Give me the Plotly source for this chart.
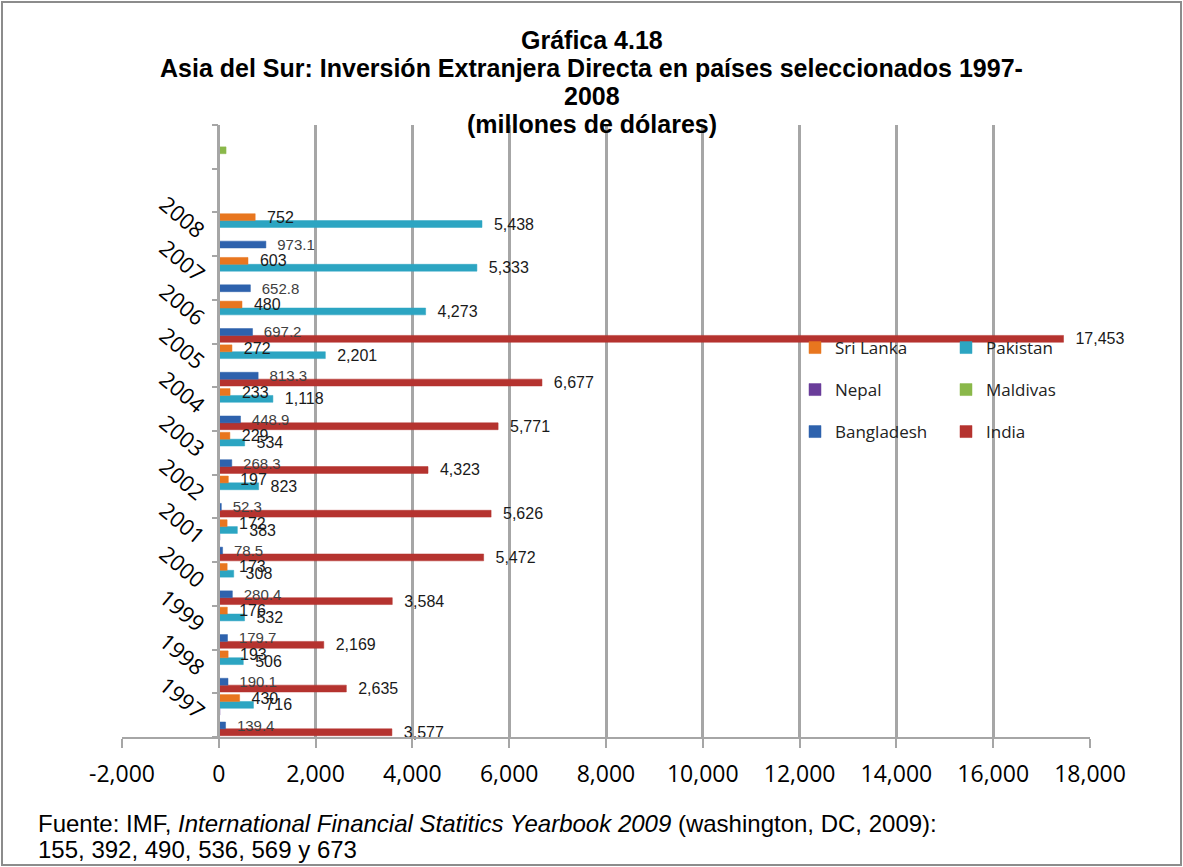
import plotly.graph_objects as go

# ---------------- data ----------------
YEARS = ["1997", "1998", "1999", "2000", "2001", "2002",
         "2003", "2004", "2005", "2006", "2007", "2008"]
EXTRA = [" ", "  "]          # two unlabeled rows above 2008
CATEGORIES = YEARS + EXTRA

SRI_LANKA = [430, 193, 176, 173, 172, 197, 229, 233, 272, 480, 603, 752, None, None]
PAKISTAN = [716, 506, 532, 308, 383, 823, 534, 1118, 2201, 4273, 5333, 5438, None, None]
NEPAL = [23, 12, 4, -1, 21, -6, 15, -1, 2, -7, 6, 1, None, None]
MALDIVAS = [11, 12, 12, 13, 12, 12, 14, 15, 10, 14, 15, 15, None, 150]
BANGLADESH = [139.4, 190.1, 179.7, 280.4, 78.5, 52.3, 268.3, 448.9, 813.3, 697.2, 652.8, 973.1, None, None]
INDIA = [3577, 2635, 2169, 3584, 5472, 5626, 4323, 5771, 6677, 17453, None, None, None, None]

X_TICKS = [-2000, 0, 2000, 4000, 6000, 8000, 10000, 12000, 14000, 16000, 18000]
X_TICKTEXT = [f"{v:,}" for v in X_TICKS]

TITLE_LINES = [
    "Gráfica 4.18",
    "Asia del Sur: Inversión Extranjera Directa en países seleccionados 1997-",
    "2008",
    "(millones de dólares)",
]
SOURCE_LINES = [
    "Fuente: IMF, <i>International Financial Statitics Yearbook 2009</i> (washington, DC, 2009):",
    "155, 392, 490, 536, 569 y 673",
]

# ---------------- layout constants ----------------
W, H = 1183, 867
ML, MR, MT, MB = 122, 93, 125, 130
PW, PH = W - ML - MR, H - MT - MB


def px_x(px):
    return (px - ML) / PW


def px_y(py):
    return (H - MB - py) / PH


LABEL_FONT = "Liberation Sans, Arial, sans-serif"
TICK_FONT = "Open Sans, sans-serif"
GRID = "#A6A6A6"

# order: first trace drawn at bottom of each group
series = [
    ("India", INDIA, "#B5332F", "legend3", ",.0f", 16, "#1a1a1a"),
    ("Bangladesh", BANGLADESH, "#2E62AD", "legend3", ".1f", 15, "#404040"),
    ("Maldivas", MALDIVAS, "#8AB84A", "legend2", None, 14, "#1a1a1a"),
    ("Nepal", NEPAL, "#6A3D9A", "legend2", None, 14, "#1a1a1a"),
    ("Pakistan", PAKISTAN, "#2CA5C2", "legend", ",.0f", 16, "#1a1a1a"),
    ("Sri Lanka", SRI_LANKA, "#E8761F", "legend", ",.0f", 16, "#1a1a1a"),
]

fig = go.Figure()
for name, vals, color, leg, fmt, fsize, fcolor in series:
    kw = {}
    if fmt:
        kw = dict(
            texttemplate="\u00a0\u00a0%{x:" + fmt + "}",
            textposition="outside",
            textangle=0,
            constraintext="none",
            cliponaxis=False,
            textfont=dict(family=LABEL_FONT, size=fsize, color=fcolor),
        )
    fig.add_trace(go.Bar(
        name=name, y=CATEGORIES, x=vals, orientation="h",
        marker=dict(color=color, line=dict(color=color, width=0.5)),
        legend=leg, hoverinfo="x+name", **kw))

yaxis_pos = (0 - X_TICKS[0]) / (X_TICKS[-1] - X_TICKS[0])

legend_common = dict(orientation="h", xanchor="left", yanchor="top",
                     entrywidth=106, entrywidthmode="pixels", traceorder="reversed",
                     bgcolor="rgba(0,0,0,0)", font=dict(family=TICK_FONT, size=17, color="#222"))

annotations = []
for line, cy in zip(TITLE_LINES, [40, 68, 96, 124]):
    annotations.append(dict(
        text="<b>" + line + "</b>", xref="paper", yref="paper",
        x=px_x(W / 2), y=px_y(cy), xanchor="center", yanchor="middle",
        showarrow=False, font=dict(family=LABEL_FONT, size=25, color="#000")))
for line, cy in zip(SOURCE_LINES, [823, 849]):
    annotations.append(dict(
        text=line, xref="paper", yref="paper",
        x=px_x(36), y=px_y(cy), xanchor="left", yanchor="middle",
        showarrow=False, font=dict(family=LABEL_FONT, size=24, color="#000")))

fig.update_layout(
    width=W, height=H, autosize=False,
    margin=dict(l=ML, r=MR, t=MT, b=MB),
    paper_bgcolor="white", plot_bgcolor="white",
    barmode="group", bargap=0.06, bargroupgap=0,
    xaxis=dict(
        range=[X_TICKS[0], X_TICKS[-1]],
        tickvals=X_TICKS, ticktext=X_TICKTEXT,
        showgrid=True, gridcolor=GRID, gridwidth=2.5,
        zeroline=False,
        showline=True, linecolor=GRID, linewidth=2,
        ticks="outside", ticklen=9, tickcolor=GRID, tickwidth=2,
        ticklabelstandoff=6,
        tickfont=dict(family=TICK_FONT, size=23, color="#000"),
    ),
    yaxis=dict(
        type="category", categoryorder="array", categoryarray=CATEGORIES,
        range=[-0.5, len(CATEGORIES) - 0.5],
        anchor="free", position=yaxis_pos,
        showline=True, linecolor=GRID, linewidth=2,
        ticks="outside", tickson="boundaries", ticklen=6,
        tickcolor=GRID, tickwidth=2,
        tickangle=40, ticklabelstandoff=10,
        tickfont=dict(family=TICK_FONT, size=22, color="#000"),
        showgrid=False,
    ),
    yaxis2=dict(
        overlaying="y", anchor="x", side="left", range=[0, 1],
        showline=True, linecolor=GRID, linewidth=2,
        showticklabels=False, ticks="", showgrid=False, zeroline=False,
    ),
    legend=dict(x=px_x(795), y=px_y(330), **legend_common),
    legend2=dict(x=px_x(795), y=px_y(372), **legend_common),
    legend3=dict(x=px_x(795), y=px_y(414), **legend_common),
    annotations=annotations,
    shapes=[dict(
        type="rect", xref="paper", yref="paper",
        x0=px_x(2), x1=px_x(W - 2), y0=px_y(H - 2), y1=px_y(2),
        line=dict(color="#8C8C8C", width=2), fillcolor="rgba(0,0,0,0)", layer="below",
    )],
    showlegend=True,
)

fig.write_html(
    "out.html",
    config={"responsive": False, "displayModeBar": False},
    post_script="document.body.style.margin='0px';document.body.style.overflow='hidden';",
)
